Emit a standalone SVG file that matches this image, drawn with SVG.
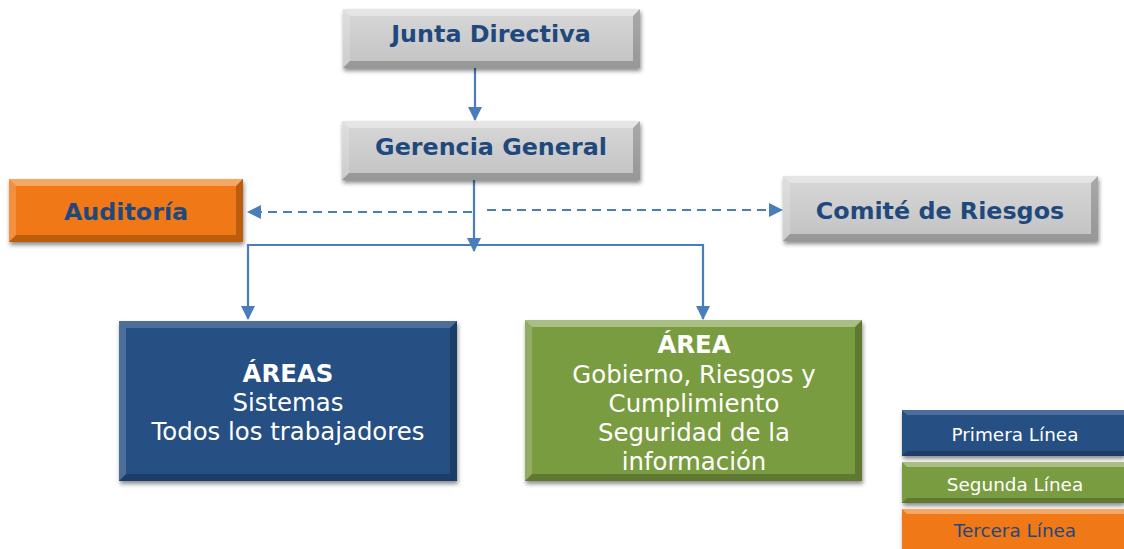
<svg xmlns="http://www.w3.org/2000/svg" width="1124" height="549" viewBox="0 0 1124 549">
<defs>
<filter id="sh" x="-10%" y="-10%" width="125%" height="130%">
<feDropShadow dx="1" dy="3" stdDeviation="2" flood-color="#000" flood-opacity="0.45"/>
</filter>
<marker id="ah" markerWidth="14" markerHeight="14" refX="13" refY="7" orient="auto" markerUnits="userSpaceOnUse" viewBox="0 0 14 14">
<path d="M0,0 L14,7 L0,14 z" fill="#4A7EBB"/>
</marker>
<linearGradient id="gGray" x1="0" y1="0" x2="0" y2="1">
<stop offset="0" stop-color="#D8D8D8"/><stop offset="1" stop-color="#C2C2C2"/>
</linearGradient>
</defs>
<style>
.hl{fill:#fff;opacity:0.35}
.dk{fill:#000;opacity:0.22}
.lt{fill:#fff;opacity:0.18}
.t{font-family:"DejaVu Sans",Verdana,sans-serif;text-anchor:middle}
.bt{font-weight:bold;fill:#1F497D;font-size:23.8px}
.wt{fill:#fff;font-size:24.4px}
.lg{font-size:18.4px}
.con{stroke:#4A7EBB;stroke-width:2.2;fill:none}
.dash{stroke-dasharray:9,6}
</style>

<g id="connectors">
<line class="con" x1="475" y1="68" x2="475" y2="120" marker-end="url(#ah)"/>
<line class="con" x1="474" y1="180" x2="474" y2="251" marker-end="url(#ah)"/>
<line class="con" x1="248" y1="245" x2="703" y2="245"/>
<line class="con" x1="248" y1="244" x2="248" y2="319" marker-end="url(#ah)"/>
<line class="con" x1="703" y1="244" x2="703" y2="319" marker-end="url(#ah)"/>
<line class="con dash" x1="472" y1="212" x2="248" y2="212" marker-end="url(#ah)"/>
<line class="con dash" x1="487" y1="210" x2="782" y2="210" marker-end="url(#ah)"/>
</g>

<g id="junta" filter="url(#sh)">
<rect x="343" y="9" width="297" height="59" fill="url(#gGray)"/>
<polygon class="hl" points="343,9 640,9 633,16 350,16"/>
<polygon class="lt" points="343,9 350,16 350,61 343,68"/>
<polygon class="dk" points="640,9 640,68 633,61 633,16"/>
<polygon class="dk" points="343,68 640,68 633,61 350,61"/>
</g>
<text class="t bt" x="491" y="42">Junta Directiva</text>

<g id="gerencia" filter="url(#sh)">
<rect x="342" y="121" width="298" height="59" fill="url(#gGray)"/>
<polygon class="hl" points="342,121 640,121 633,128 349,128"/>
<polygon class="lt" points="342,121 349,128 349,173 342,180"/>
<polygon class="dk" points="640,121 640,180 633,173 633,128"/>
<polygon class="dk" points="342,180 640,180 633,173 349,173"/>
</g>
<text class="t bt" x="491" y="155">Gerencia General</text>

<g id="auditoria" filter="url(#sh)">
<rect x="9" y="179" width="234" height="63" fill="#F07814"/>
<polygon class="hl" points="9,179 243,179 236,186 16,186"/>
<polygon class="lt" points="9,179 16,186 16,235 9,242"/>
<polygon class="dk" points="243,179 243,242 236,235 236,186"/>
<polygon class="dk" points="9,242 243,242 236,235 16,235"/>
</g>
<text class="t bt" x="126" y="220">Auditoría</text>

<g id="comite" filter="url(#sh)">
<rect x="783" y="176" width="315" height="65" fill="url(#gGray)"/>
<polygon class="hl" points="783,176 1098,176 1091,183 790,183"/>
<polygon class="lt" points="783,176 790,183 790,234 783,241"/>
<polygon class="dk" points="1098,176 1098,241 1091,234 1091,183"/>
<polygon class="dk" points="783,241 1098,241 1091,234 790,234"/>
</g>
<text class="t bt" x="940" y="219">Comité de Riesgos</text>

<g id="areas" filter="url(#sh)">
<rect x="119" y="321" width="338" height="160" fill="#264F84"/>
<polygon class="lt" points="119,321 457,321 450,328 126,328"/>
<polygon class="lt" points="119,321 126,328 126,474 119,481"/>
<polygon class="dk" points="457,321 457,481 450,474 450,328"/>
<polygon class="dk" points="119,481 457,481 450,474 126,474"/>
</g>
<text class="t wt" x="288" y="382" font-weight="bold" font-size="26.4">ÁREAS</text>
<text class="t wt" x="288" y="411">Sistemas</text>
<text class="t wt" x="288" y="440">Todos los trabajadores</text>

<g id="area-grc" filter="url(#sh)">
<rect x="525" y="320" width="337" height="161" fill="#7A9C40"/>
<polygon class="hl" points="525,320 862,320 855,327 532,327"/>
<polygon class="lt" points="525,320 532,327 532,474 525,481"/>
<polygon class="dk" points="862,320 862,481 855,474 855,327"/>
<polygon class="dk" points="525,481 862,481 855,474 532,474"/>
</g>
<text class="t wt" x="694" y="353" font-weight="bold" font-size="26.4">ÁREA</text>
<text class="t wt" x="694" y="383">Gobierno, Riesgos y</text>
<text class="t wt" x="694" y="412">Cumplimiento</text>
<text class="t wt" x="694" y="441">Seguridad de la</text>
<text class="t wt" x="694" y="470">información</text>

<g id="legend-primera" filter="url(#sh)">
<rect x="902" y="410" width="222" height="46" fill="#264F84"/>
<polygon class="lt" points="902,410 1124,410 1124,415 907,415"/>
<polygon class="dk" points="902,456 1124,456 1124,451 907,451"/>
</g>
<text class="t lg" x="1015" y="441" fill="#fff">Primera Línea</text>

<g id="legend-segunda" filter="url(#sh)">
<rect x="902" y="462" width="222" height="41" fill="#7A9C40"/>
<polygon class="hl" points="902,462 1124,462 1124,467 907,467"/>
<polygon class="dk" points="902,503 1124,503 1124,498 907,498"/>
</g>
<text class="t lg" x="1015" y="491" fill="#fff">Segunda Línea</text>

<g id="legend-tercera" filter="url(#sh)">
<rect x="902" y="509" width="222" height="40" fill="#F07814"/>
<polygon class="hl" points="902,509 1124,509 1124,514 907,514"/>
</g>
<text class="t lg" x="1015" y="537" fill="#1F497D">Tercera Línea</text>
</svg>
